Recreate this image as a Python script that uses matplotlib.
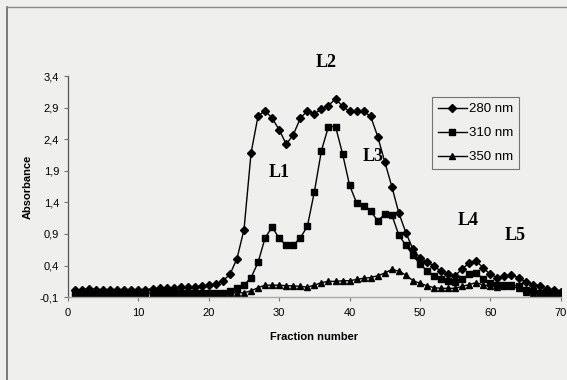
import numpy as np
import matplotlib
matplotlib.use("Agg")
import matplotlib.pyplot as plt
from matplotlib.lines import Line2D

# fraction numbers 1..70
fractions = np.arange(1, 71)

abs_280 = [0.01, 0.02, 0.03, 0.02, 0.02, 0.02, 0.02, 0.02, 0.02, 0.02,
           0.02, 0.03, 0.04, 0.05, 0.05, 0.06, 0.06, 0.06, 0.07, 0.09,
           0.11, 0.16, 0.26, 0.51, 0.97, 2.18, 2.77, 2.85, 2.73, 2.55,
           2.32, 2.47, 2.73, 2.85, 2.80, 2.88, 2.93, 3.04, 2.92, 2.84,
           2.84, 2.84, 2.76, 2.44, 2.04, 1.65, 1.23, 0.92, 0.66, 0.52,
           0.46, 0.39, 0.31, 0.26, 0.24, 0.35, 0.44, 0.47, 0.36, 0.26,
           0.21, 0.24, 0.25, 0.21, 0.14, 0.10, 0.07, 0.03, 0.01, -0.02]

abs_310 = [-0.04, -0.04, -0.04, -0.04, -0.04, -0.04, -0.04, -0.04, -0.04, -0.04,
           -0.04, -0.04, -0.04, -0.04, -0.04, -0.04, -0.04, -0.04, -0.04, -0.04,
           -0.04, -0.03, -0.01, 0.04, 0.09, 0.21, 0.45, 0.84, 1.01, 0.83,
           0.72, 0.72, 0.84, 1.02, 1.57, 2.22, 2.60, 2.60, 2.17, 1.67,
           1.39, 1.35, 1.26, 1.11, 1.21, 1.20, 0.88, 0.72, 0.56, 0.42,
           0.32, 0.24, 0.18, 0.15, 0.14, 0.18, 0.26, 0.28, 0.19, 0.12,
           0.10, 0.10, 0.10, 0.07, 0.02, -0.01, -0.03, -0.03, -0.03, -0.03]

abs_350 = [-0.04, -0.04, -0.04, -0.04, -0.04, -0.04, -0.04, -0.04, -0.04, -0.04,
           -0.04, -0.04, -0.04, -0.04, -0.04, -0.04, -0.04, -0.04, -0.04, -0.04,
           -0.04, -0.04, -0.04, -0.03, -0.03, 0.00, 0.05, 0.09, 0.09, 0.09,
           0.08, 0.08, 0.07, 0.06, 0.09, 0.13, 0.15, 0.15, 0.16, 0.16,
           0.18, 0.20, 0.21, 0.24, 0.28, 0.34, 0.31, 0.25, 0.16, 0.12,
           0.08, 0.05, 0.04, 0.04, 0.04, 0.07, 0.10, 0.13, 0.09, 0.08,
           0.06, 0.07, 0.07, 0.04, -0.02, -0.04, -0.04, -0.04, -0.04, -0.04]

series_labels = ["280 nm", "310 nm", "350 nm"]
peak_labels = ["L1", "L2", "L3", "L4", "L5"]
peak_pos = [(30.0, 1.87), (36.6, 3.61), (43.3, 2.12), (56.8, 1.12), (63.5, 0.88)]

yticks = [-0.1, 0.4, 0.9, 1.4, 1.9, 2.4, 2.9, 3.4]
ytick_labels = ["-0,1", "0,4", "0,9", "1,4", "1,9", "2,4", "2,9", "3,4"]
xticks = [0, 10, 20, 30, 40, 50, 60, 70]

plt.rcParams['font.family'] = ['Liberation Sans', 'DejaVu Sans']

bg = '#efefee'
fig = plt.figure(figsize=(5.67, 3.8), dpi=100, facecolor=bg)
ax = fig.add_axes([0.12, 0.218, 0.869, 0.582])
ax.set_facecolor(bg)

ax.plot(fractions, abs_280, color='black', lw=1.0, marker='D', ms=4.3, label=series_labels[0])
ax.plot(fractions, abs_310, color='black', lw=1.0, marker='s', ms=4.8, label=series_labels[1])
ax.plot(fractions, abs_350, color='black', lw=1.0, marker='^', ms=4.8, label=series_labels[2])

ax.set_xlim(0, 70)
ax.set_ylim(-0.1, 3.4)
ax.set_yticks(yticks)
ax.set_yticklabels(ytick_labels)
ax.set_xticks(xticks)
ax.tick_params(axis='both', labelsize=8, length=3, width=0.8, color='#777777')
ax.tick_params(axis='x', pad=5)

for s in ['top', 'right']:
    ax.spines[s].set_visible(False)
ax.spines['left'].set_color('#555555')
ax.spines['bottom'].set_color('#aaaaaa')
ax.spines['left'].set_linewidth(0.9)
ax.spines['bottom'].set_linewidth(1.0)

ax.set_xlabel("Fraction number", fontsize=8, fontweight='bold', labelpad=10)
ax.set_ylabel("Absorbance", fontsize=8, fontweight='bold', labelpad=5)

for lab, (x, y) in zip(peak_labels, peak_pos):
    ax.text(x, y, lab, fontsize=13, fontweight='bold', family='Liberation Serif',
            ha='center', va='center', clip_on=False)

leg = ax.legend(loc='upper left', bbox_to_anchor=(0.738, 0.905), fontsize=9.5,
                frameon=True, fancybox=False, handlelength=2.2, handletextpad=0.2,
                labelspacing=0.9, borderpad=0.45, borderaxespad=0)
leg.get_frame().set_edgecolor('#555555')
leg.get_frame().set_facecolor(bg)
leg.get_frame().set_linewidth(0.8)

# page border of the scan (left and top edges)
fig.add_artist(Line2D([0.013, 0.013], [0, 0.982], transform=fig.transFigure,
                      color='#666666', lw=1.2))
fig.add_artist(Line2D([0.013, 1.0], [0.982, 0.982], transform=fig.transFigure,
                      color='#888888', lw=1.0))

fig.savefig("out.png", dpi=100, facecolor=bg)
